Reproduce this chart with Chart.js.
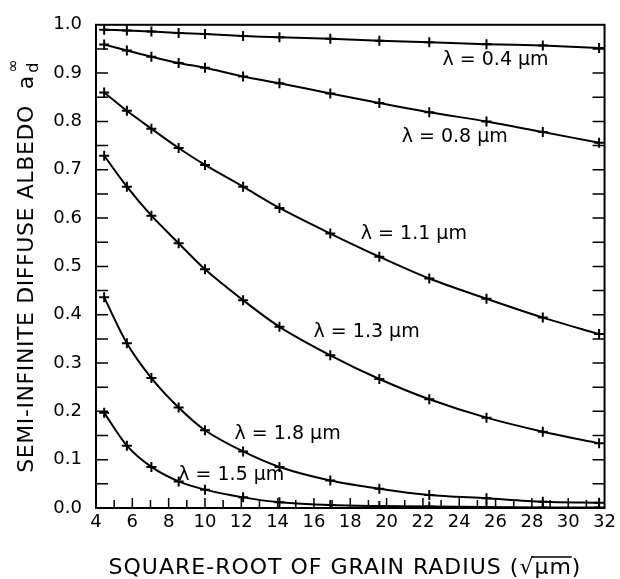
<!DOCTYPE html>
<html>
<head>
<meta charset="utf-8">
<script src="https://cdn.jsdelivr.net/npm/chart.js@4.4.1/dist/chart.umd.min.js"></script>
<style>
  html, body { margin: 0; padding: 0; background: #fff; }
  #wrap { width: 620px; height: 579px; }
</style>
</head>
<body>
<div id="wrap"><canvas id="albedoChart"></canvas></div>
<script>
// Raiz cuadrada del radio del grano (eje x)
const rootRadius = [4.45, 5.7, 7.05, 8.55, 10.0, 12.1, 14.1, 16.9, 19.6, 22.35, 25.5, 28.6, 31.7];

// Albedo difuso semi-infinito para cada longitud de onda
const albedo04 = [0.990, 0.988, 0.986, 0.983, 0.981, 0.977, 0.974, 0.971, 0.967, 0.964, 0.960, 0.957, 0.952];
const albedo08 = [0.959, 0.947, 0.934, 0.921, 0.911, 0.893, 0.879, 0.858, 0.838, 0.819, 0.800, 0.778, 0.756];
const albedo11 = [0.860, 0.822, 0.785, 0.745, 0.710, 0.665, 0.621, 0.568, 0.520, 0.475, 0.433, 0.394, 0.360];
const albedo13 = [0.729, 0.665, 0.605, 0.548, 0.494, 0.430, 0.375, 0.316, 0.267, 0.225, 0.187, 0.158, 0.134];
const albedo18 = [0.436, 0.341, 0.269, 0.208, 0.161, 0.117, 0.085, 0.057, 0.040, 0.027, 0.020, 0.013, 0.011];
const albedo15 = [0.197, 0.129, 0.085, 0.055, 0.038, 0.022, 0.012, 0.006, 0.004, 0.003, 0.002, 0.001, 0.001];

const seriesNames = ['λ = 0.4 μm', 'λ = 0.8 μm', 'λ = 1.1 μm', 'λ = 1.3 μm', 'λ = 1.8 μm', 'λ = 1.5 μm'];
const seriesValues = [albedo04, albedo08, albedo11, albedo13, albedo18, albedo15];

// Donde va cada etiqueta de curva (en unidades de datos)
const labelX = [26.0, 23.75, 21.5, 18.9, 14.55, 11.45];
const labelY = [0.926, 0.768, 0.566, 0.365, 0.154, 0.068];

const xTitle = 'SQUARE-ROOT OF GRAIN RADIUS (√μm)';
const yTitle = 'SEMI-INFINITE DIFFUSE ALBEDO';

const FONT = '"DejaVu Sans", sans-serif';

// Dibuja el marco, las marcas hacia dentro, los titulos y las etiquetas
const paperPlugin = {
    id: 'paper',
    afterDraw(chart) {
        const c = chart.ctx;
        const a = chart.chartArea;
        const xs = chart.scales.x;
        const ys = chart.scales.y;
        c.save();
        c.strokeStyle = '#000';
        c.lineWidth = 2;
        c.strokeRect(a.left, a.top, a.right - a.left, a.bottom - a.top);

        // marcas del eje x, cada unidad
        c.lineWidth = 1.5;
        c.beginPath();
        for (let v = 5; v < 32; v++) {
            const px = xs.getPixelForValue(v);
            const len = v % 2 === 0 ? 10 : 8;
            c.moveTo(px, a.bottom);
            c.lineTo(px, a.bottom - len);
        }
        // marcas del eje y, cada 0.05, a ambos lados
        for (let i = 1; i < 20; i++) {
            const py = ys.getPixelForValue(i * 0.05);
            c.moveTo(a.left, py);
            c.lineTo(a.left + 12, py);
            c.moveTo(a.right, py);
            c.lineTo(a.right - 12, py);
        }
        c.stroke();

        c.fillStyle = '#000';
        c.textBaseline = 'middle';
        c.textAlign = 'center';

        // etiquetas de las curvas
        c.font = '19px ' + FONT;
        seriesNames.forEach((name, i) => {
            c.fillText(name, xs.getPixelForValue(labelX[i]), ys.getPixelForValue(labelY[i]));
        });

        // titulo del eje x
        c.font = '22px ' + FONT;
        c.letterSpacing = '1px';
        c.textBaseline = 'alphabetic';
        const tx = 345;
        const ty = 574;
        c.fillText(xTitle, tx, ty);
        // raya sobre "μm"
        const full = c.measureText(xTitle).width;
        const tail = c.measureText('μm)').width;
        const mu = c.measureText('μm').width;
        const startX = tx + full / 2 - tail;
        c.lineWidth = 1.5;
        c.beginPath();
        c.moveTo(startX - 3, ty - 17);
        c.lineTo(startX + mu, ty - 17);
        c.stroke();

        // titulo del eje y (girado)
        c.translate(33, 289);
        c.rotate(-Math.PI / 2);
        c.font = '22px ' + FONT;
        c.letterSpacing = '0.6px';
        c.fillText(yTitle, 0, 0);
        const w = c.measureText(yTitle).width;
        c.letterSpacing = '0px';
        c.textAlign = 'left';
        const ax = w / 2 + 16;
        c.font = '22px ' + FONT;
        c.fillText('a', ax, 0);
        const aw = c.measureText('a').width;
        c.font = '16px ' + FONT;
        c.fillText('d', ax + aw + 3, 5);
        c.fillText('∞', ax + aw + 3, -15);
        c.restore();
    }
};

const ctx = document.getElementById('albedoChart').getContext('2d');
const chart = new Chart(ctx, {
    type: 'line',
    data: {
        datasets: seriesValues.map((vals, i) => ({
            label: seriesNames[i],
            data: vals.map((v, j) => ({ x: rootRadius[j], y: v })),
            borderColor: '#000',
            backgroundColor: '#000',
            borderWidth: 2,
            tension: 0.3,
            pointStyle: 'cross',
            pointRadius: 5,
            pointBorderWidth: 2,
            pointBorderColor: '#000'
        }))
    },
    options: {
        responsive: true,
        maintainAspectRatio: false,
        animation: false,
        layout: { padding: { top: 20, right: 12, left: 0, bottom: 0 } },
        plugins: {
            legend: { display: false },
            tooltip: { enabled: false }
        },
        scales: {
            x: {
                type: 'linear',
                min: 4,
                max: 32,
                grid: { display: false, drawTicks: false },
                border: { display: false },
                ticks: {
                    stepSize: 2,
                    color: '#000',
                    padding: 4,
                    maxRotation: 0,
                    font: { family: FONT, size: 18 }
                },
                afterFit(scale) { scale.height = 71; }
            },
            y: {
                min: 0,
                max: 1,
                grid: { display: false, drawTicks: false },
                border: { display: false },
                ticks: {
                    stepSize: 0.1,
                    color: '#000',
                    padding: 14,
                    font: { family: FONT, size: 18 },
                    callback: v => v.toFixed(1)
                },
                afterFit(scale) { scale.width = 96; }
            }
        }
    },
    plugins: [paperPlugin]
});
</script>
</body>
</html>
